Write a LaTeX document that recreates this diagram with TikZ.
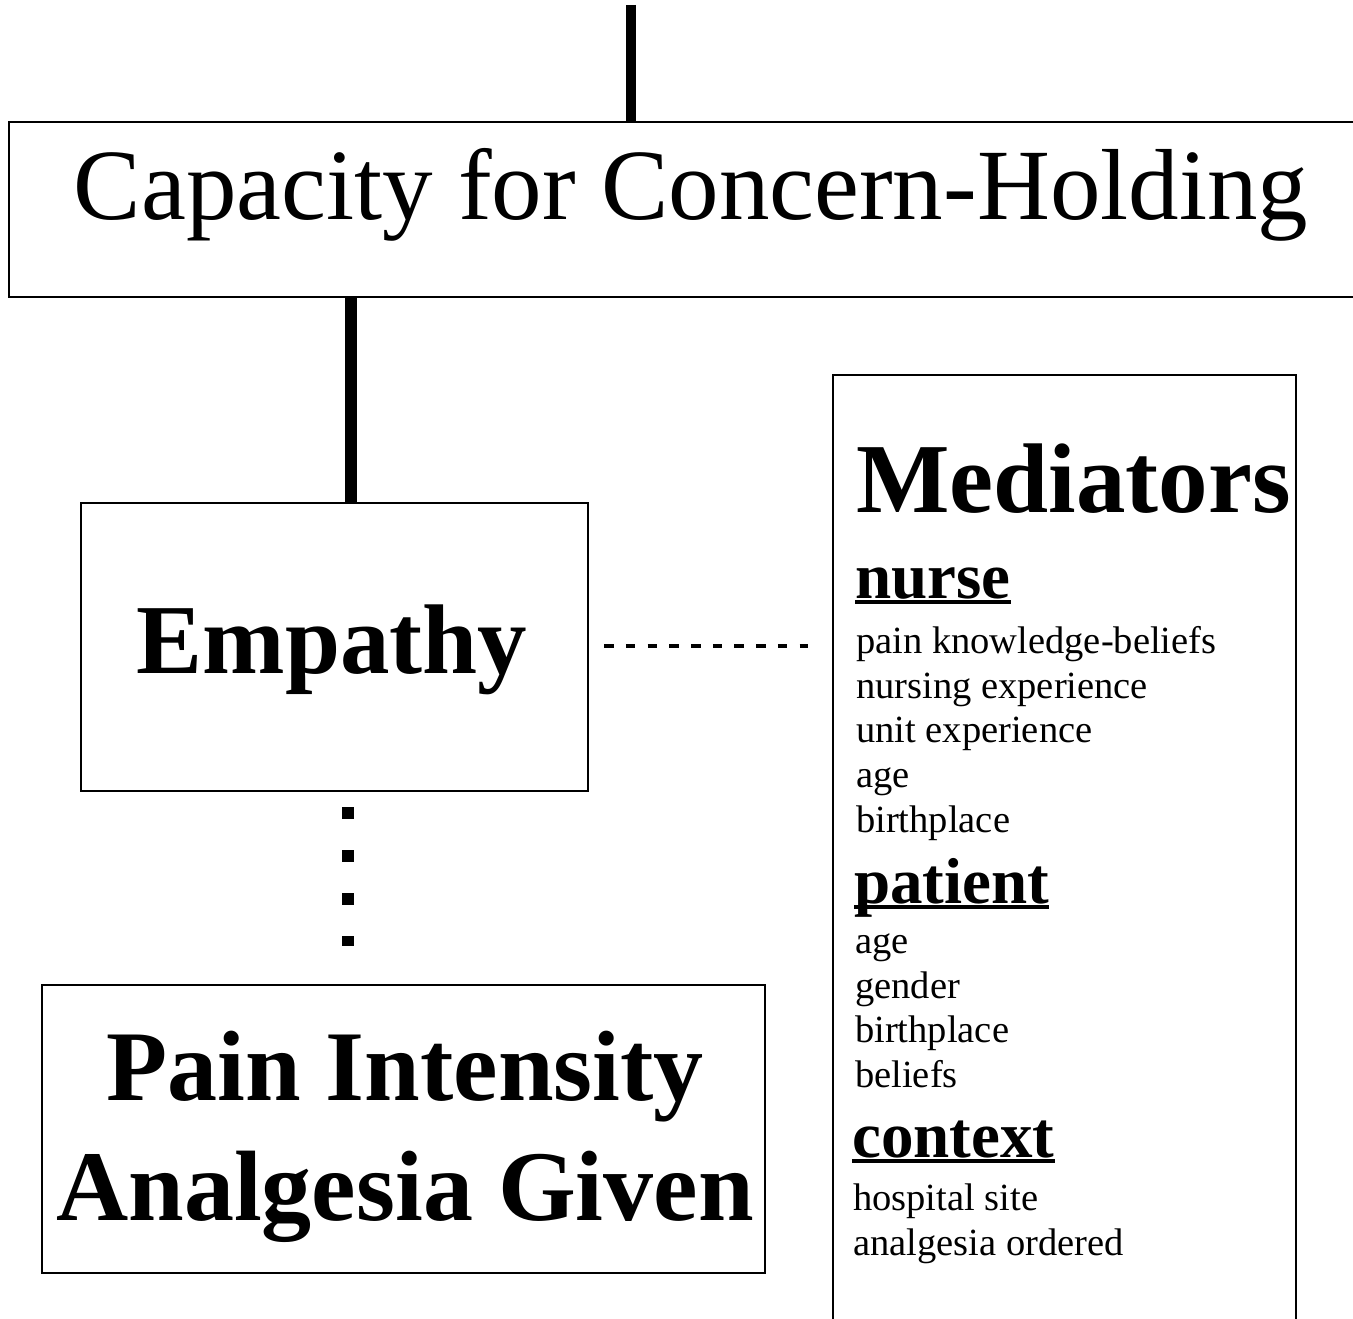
\documentclass[tikz,border=0pt]{standalone}
\usepackage{fontspec}
\setmainfont{Liberation Serif}
\begin{document}
\begin{tikzpicture}[x=1pt,y=1pt,
  box/.style={draw, line width=2.5pt, rectangle, inner sep=0pt, anchor=center},
  txt/.style={inner sep=0pt, font=#1},
  heavy/.style={line width=#1},
  dots/.style={line width=12pt, dash pattern=on 12pt off 31pt},
  dashconn/.style={line width=3.5pt, dash pattern=on 9.5pt off 12.2pt},
  hdr/.style={inner sep=0pt, anchor=base west, font=\fontsize{65}{70}\selectfont\bfseries},
  item/.style={inner sep=0pt, anchor=base west, font=\fontsize{38.5}{45}\selectfont},
  uline/.style={line width=3.5pt}
]
\useasboundingbox (0,0) rectangle (1353,-1319);
\clip (0,0) rectangle (1353,-1319);
\fill[white] (0,0) rectangle (1353,-1319);

% boxes
\node[box, minimum width=1364pt, minimum height=175pt] (cap) at (691,-209.5) {};
\node[box, minimum width=507pt, minimum height=288pt] (emp) at (334.5,-647) {};
\node[box, minimum width=723pt, minimum height=288pt] (pain) at (403.5,-1129) {};
\node[box, minimum width=463pt, minimum height=960pt] (med) at (1064.5,-855) {};

% box texts
\node[txt=\fontsize{101}{110}\selectfont, anchor=base] (capt) at (691,-219) {Capacity for Concern-Holding};
\node[txt=\fontsize{99}{110}\selectfont\bfseries, anchor=base] (empt) at (332,-673) {Empathy};
\node[txt=\fontsize{100}{110}\selectfont\bfseries, anchor=base] (paint) at (405,-1100) {Pain Intensity};
\node[txt=\fontsize{100}{110}\selectfont\bfseries, anchor=base] (analt) at (405,-1220) {Analgesia Given};

% connectors
\coordinate (topend) at (631,-5);
\draw[heavy=10pt] (topend) -- (topend |- cap.north);
\draw[heavy=12pt] ([xshift=16.5pt]emp.north) -- ([xshift=16.5pt]emp.north |- cap.south);
\draw[dots, shorten <=15pt, shorten >=38pt] ([xshift=13.5pt]emp.south) -- ([xshift=13.5pt]emp.south |- pain.north);
\draw[dashconn, shorten <=15pt, shorten >=24pt] ([yshift=1pt]emp.east) -- ([yshift=1pt]emp.east -| med.west);

% mediators content
\node[txt=\fontsize{99}{110}\selectfont\bfseries, anchor=base west] (medt) at (856,-512) {Mediators};

\node[hdr] (nurse) at (855,-598) {nurse};
\draw[uline] ([yshift=-4pt]nurse.base west) -- ([yshift=-4pt]nurse.base east);
\node[item] (n1) at (856,-653) {pain knowledge-beliefs};
\node[item] (n2) at (856,-698) {nursing experience};
\node[item] (n3) at (856,-742) {unit experience};
\node[item] (n4) at (856,-787) {age};
\node[item] (n5) at (856,-832) {birthplace};

\node[hdr] (patient) at (854,-903) {patient};
\draw[uline] ([yshift=-4pt]patient.base west) -- ([yshift=-4pt]patient.base east);
\node[item] (p1) at (855,-953) {age};
\node[item] (p2) at (855,-998) {gender};
\node[item] (p3) at (855,-1042) {birthplace};
\node[item] (p4) at (855,-1087) {beliefs};

\node[hdr] (context) at (852,-1157) {context};
\draw[uline] ([yshift=-4pt]context.base west) -- ([yshift=-4pt]context.base east);
\node[item] (c1) at (853,-1210) {hospital site};
\node[item] (c2) at (853,-1255) {analgesia ordered};
\end{tikzpicture}
\end{document}
